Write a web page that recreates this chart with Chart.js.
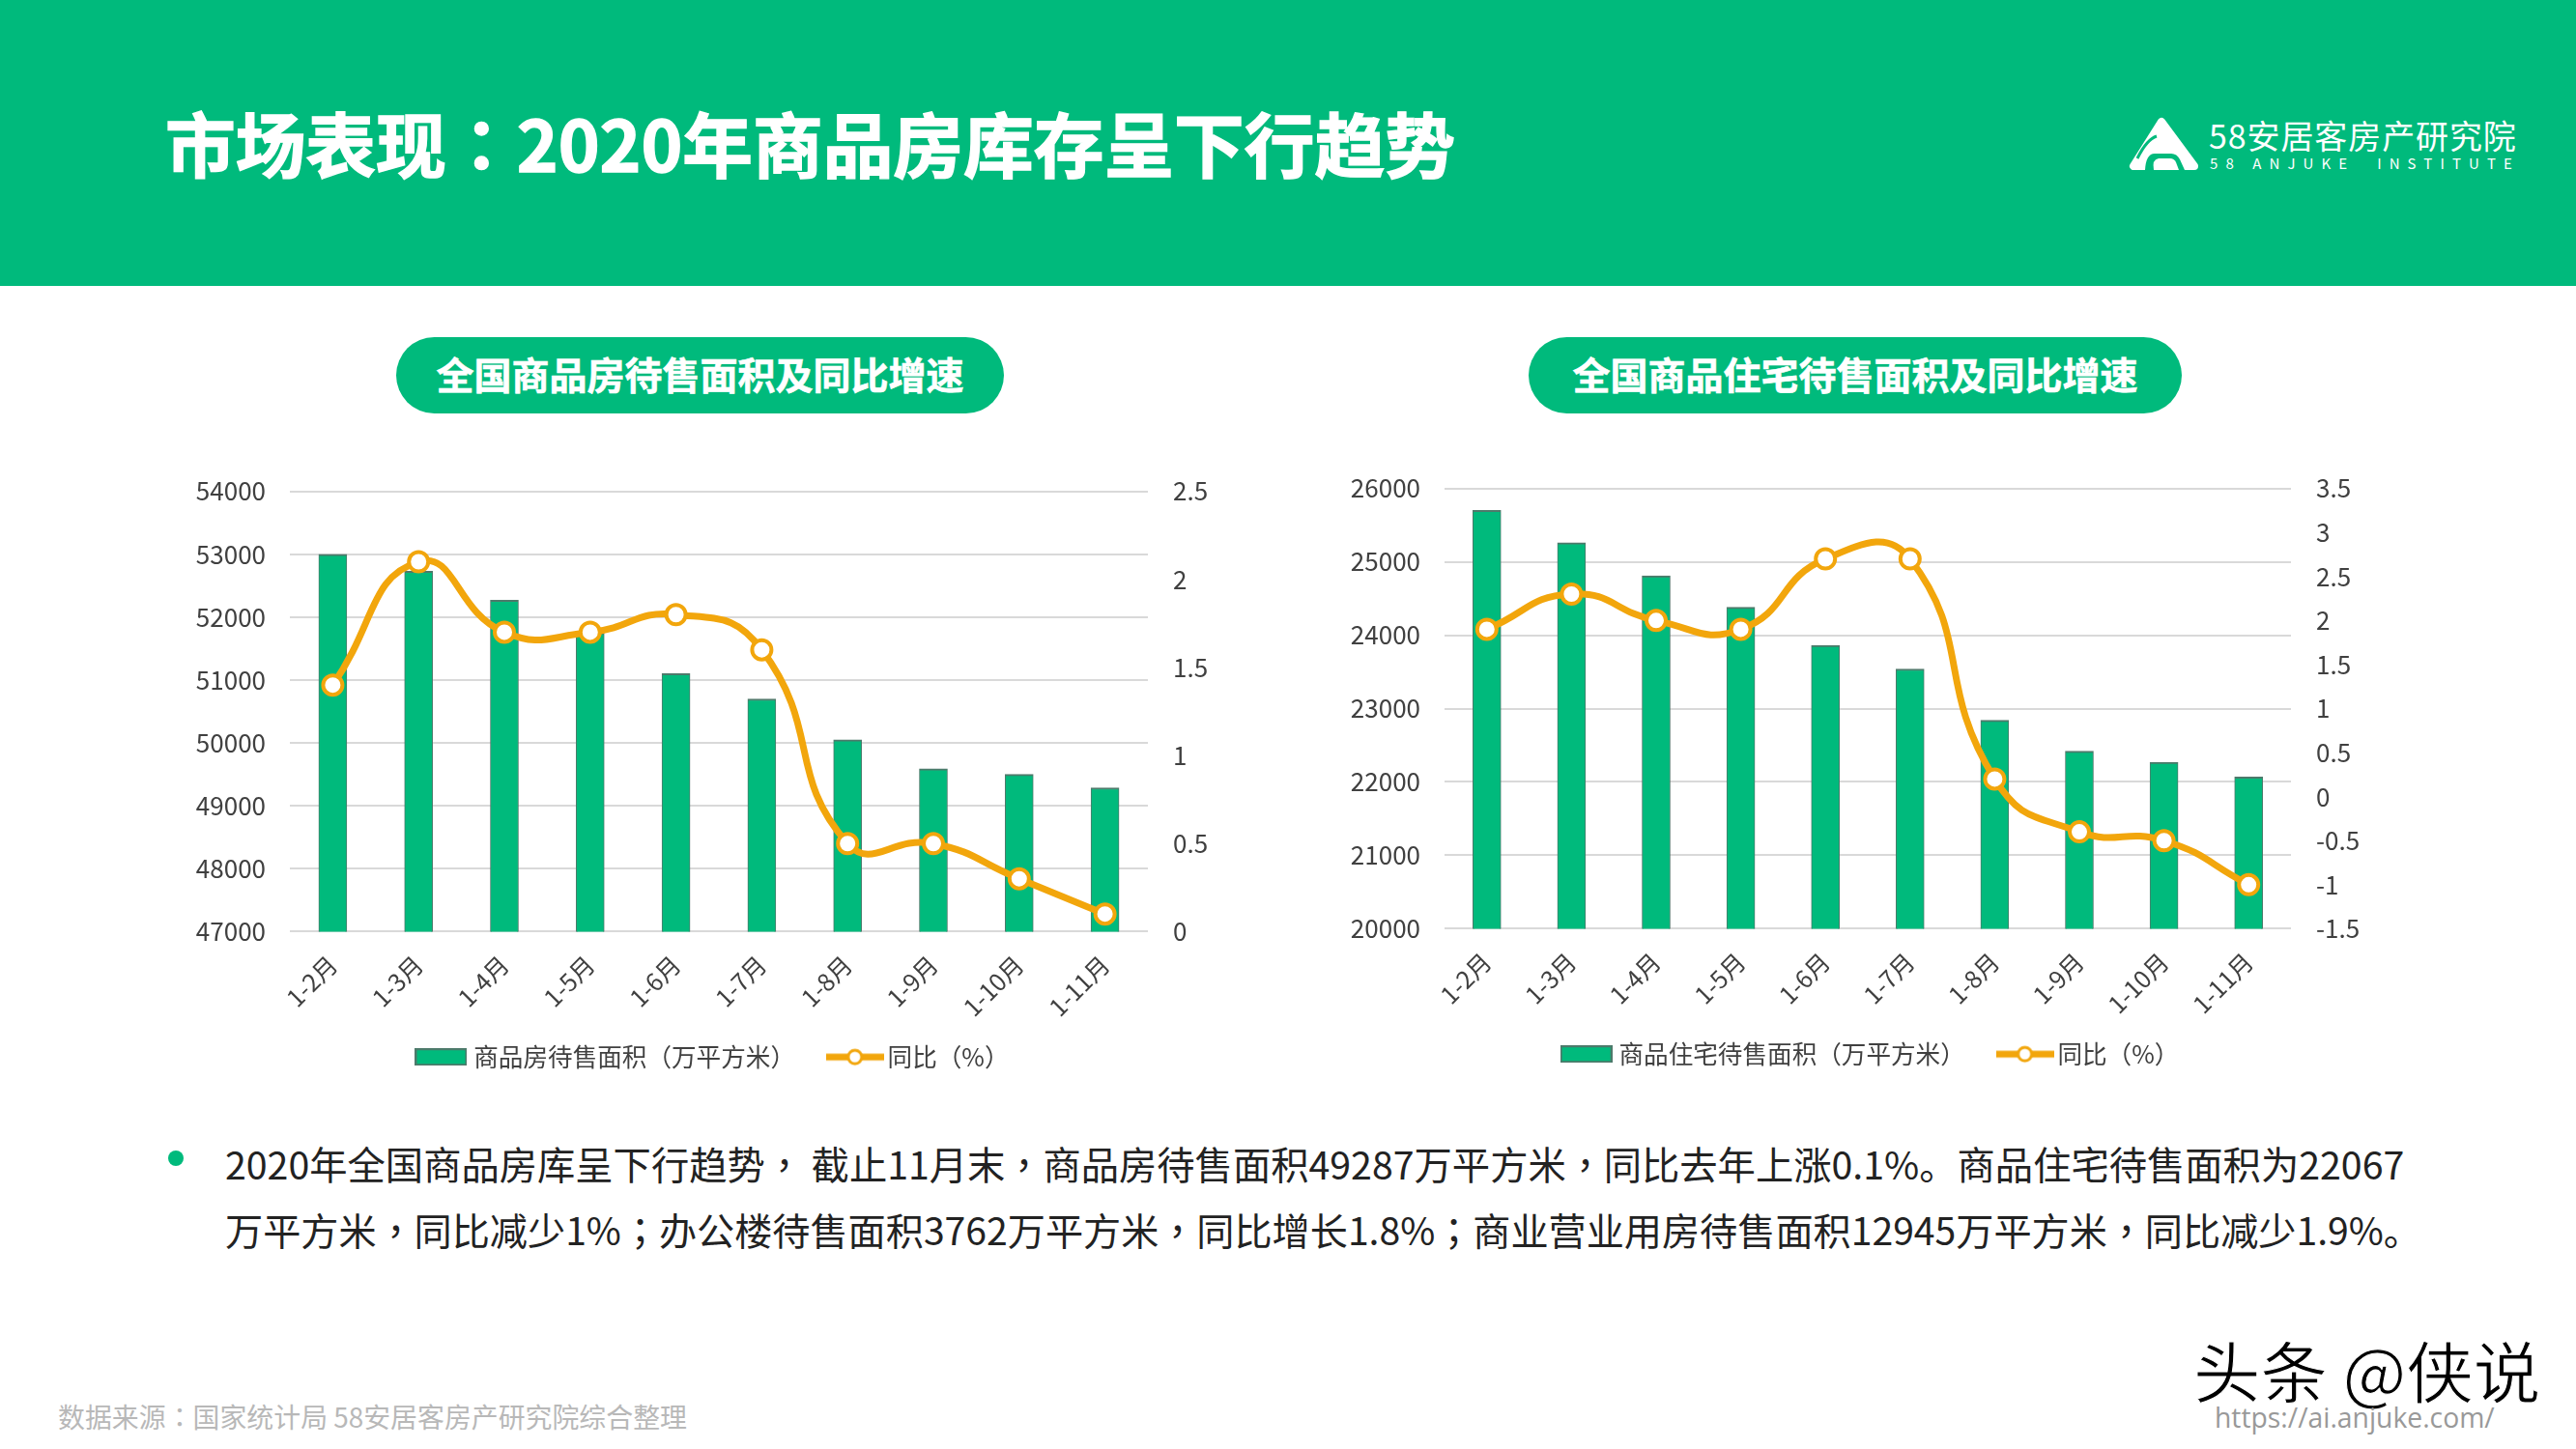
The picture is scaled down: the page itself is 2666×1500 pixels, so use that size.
<!DOCTYPE html>
<html>
<head>
<meta charset="utf-8">
<script src="https://cdn.jsdelivr.net/npm/chart.js@4"></script>
<style>
    /* the reference centres these marks in their cell, the TC cut of the font does too */
    @font-face { font-family: "Punct"; src: local("Noto Sans CJK TC"); unicode-range: U+FF0C, U+FF1A, U+FF1B; }
    @font-face { font-family: "Punct"; font-weight: 700; src: local("Noto Sans CJK TC Bold"), local("Noto Sans CJK TC"); unicode-range: U+FF0C, U+FF1A, U+FF1B; }
    html, body { margin: 0; padding: 0; background: #fff; }
    body { position: relative; width: 2666px; height: 1500px; overflow: hidden; font-family: "Punct", "Noto Sans CJK SC", sans-serif; }
    .txt { position: absolute; white-space: nowrap; line-height: 1; }
    canvas { position: absolute; }
    #header { position: absolute; left: 0; top: 0; width: 2666px; height: 296px; background: #00BA7C; }
    .pill { position: absolute; height: 79px; top: 349px; border-radius: 40px; background: #00BA7C; color: #fff; font-weight: 700; font-size: 39px; line-height: 75px; text-align: center; white-space: nowrap; -webkit-text-stroke: 0.6px #fff; }
    #bullet { position: absolute; left: 174px; top: 1191px; width: 16px; height: 16px; border-radius: 50%; background: #00BA7C; }
</style>
</head>
<body>
<div id="header"></div>
<div class="txt" style="left:171px;top:111px;font-size:72.7px;font-weight:700;color:#fff;-webkit-text-stroke:1.4px #fff">市场表现：2020年商品房库存呈下行趋势</div>

<svg style="position:absolute;left:2200px;top:118px" width="80" height="62" viewBox="0 0 80 62">
    <path d="M37 8 L8 54 L71 54 Z" fill="#fff" stroke="#fff" stroke-width="8" stroke-linejoin="round"/>
    <path d="M12 46 Q22 26 32 23" fill="none" stroke="#00BA7C" stroke-width="3"/>
    <path d="M20 58 Q21 40 31 41 L47 41 Q53 41 56 47 L61 58 Z" fill="#00BA7C"/>
    <path d="M29 58 Q27 47 34 46 L46 46 Q50 46 52 50 L55 58 Z" fill="#fff"/>
</svg>
<div class="txt" style="left:2286px;top:123px;font-size:34px;font-weight:400;color:#fff;letter-spacing:0.9px">58安居客房产研究院</div>
<div class="txt" style="left:2287px;top:161px;font-size:15px;color:#fff;letter-spacing:8.1px">58 ANJUKE &nbsp;INSTITUTE</div>

<div class="pill" style="left:410px;width:629px">全国商品房待售面积及同比增速</div>
<div class="pill" style="left:1582px;width:676px">全国商品住宅待售面积及同比增速</div>

<canvas id="leftChart" width="1180" height="663" style="left:150px;top:467px"></canvas>
<canvas id="rightChart" width="1176" height="663" style="left:1350px;top:464px"></canvas>

<div id="bullet"></div>
<div class="txt" style="left:233px;top:1184px;font-size:39.3px;color:#222">2020年全国商品房库呈下行趋势， 截止11月末，商品房待售面积49287万平方米，同比去年上涨0.1%。商品住宅待售面积为22067</div>
<div class="txt" style="left:233px;top:1253px;font-size:39.15px;color:#222">万平方米，同比减少1%；办公楼待售面积3762万平方米，同比增长1.8%；商业营业用房待售面积12945万平方米，同比减少1.9%。</div>

<div class="txt" style="left:60px;top:1453px;font-size:27.9px;color:#b8b8b8">数据来源：国家统计局 58安居客房产研究院综合整理</div>
<div class="txt" style="left:2270px;top:1382px;font-size:69.5px;color:#000;-webkit-text-stroke:1px #fff">头条 @侠说</div>
<div class="txt" style="left:2292px;top:1453px;font-size:28.3px;color:#999;font-family:'Open Sans',sans-serif">https://ai.anjuke.com/</div>

<script>
const months = ['1-2月', '1-3月', '1-4月', '1-5月', '1-6月', '1-7月', '1-8月', '1-9月', '1-10月', '1-11月'];

const allAreaName = '商品房待售面积（万平方米）';
const allArea = [53000, 52730, 52270, 51750, 51100, 50700, 50050, 49590, 49500, 49287];
const allGrowth = [1.4, 2.1, 1.7, 1.7, 1.8, 1.6, 0.5, 0.5, 0.3, 0.1];

const homeAreaName = '商品住宅待售面积（万平方米）';
const homeArea = [25700, 25260, 24810, 24380, 23860, 23540, 22840, 22420, 22270, 22067];
const homeGrowth = [1.9, 2.3, 2.0, 1.9, 2.7, 2.7, 0.2, -0.4, -0.5, -1.0];

const growthName = '同比（%）';

const GREEN = '#00BA7C';
const ORANGE = '#F2A60C';
const TEXT = '#404040';
const FONT = '"Noto Sans CJK SC", sans-serif';

// legend swatches, drawn once and handed to the legend as point styles
function barSwatch() {
    const c = document.createElement('canvas');
    c.width = 54;
    c.height = 18;
    const ctx = c.getContext('2d');
    ctx.fillStyle = GREEN;
    ctx.strokeStyle = '#4d7a6b';
    ctx.lineWidth = 2;
    ctx.fillRect(1, 1, 52, 16);
    ctx.strokeRect(1, 1, 52, 16);
    return c;
}

function lineSwatch() {
    const c = document.createElement('canvas');
    c.width = 60;
    c.height = 24;
    const ctx = c.getContext('2d');
    ctx.strokeStyle = ORANGE;
    ctx.lineWidth = 7;
    ctx.beginPath();
    ctx.moveTo(0, 12);
    ctx.lineTo(60, 12);
    ctx.stroke();
    ctx.fillStyle = '#fff';
    ctx.lineWidth = 3;
    ctx.beginPath();
    ctx.arc(30, 12, 7, 0, Math.PI * 2);
    ctx.fill();
    ctx.stroke();
    return c;
}

function drawChart(id, barName, barValues, lineValues, y1, y2, widths) {
    new Chart(document.getElementById(id), {
        data: {
            labels: months,
            datasets: [
                {
                    type: 'line',
                    label: growthName,
                    data: lineValues,
                    yAxisID: 'y2',
                    order: 1,
                    borderColor: ORANGE,
                    borderWidth: 7,
                    tension: 0.5,
                    pointRadius: 10,
                    pointBackgroundColor: '#fff',
                    pointBorderColor: ORANGE,
                    pointBorderWidth: 4
                },
                {
                    type: 'bar',
                    label: barName,
                    data: barValues,
                    yAxisID: 'y1',
                    order: 2,
                    barThickness: 29,
                    backgroundColor: GREEN,
                    borderColor: '#4d7a6b',
                    borderWidth: { top: 2, left: 1, right: 1, bottom: 0 }
                }
            ]
        },
        options: {
            responsive: false,
            animation: false,
            devicePixelRatio: 1,
            layout: { padding: { bottom: 13 } },
            plugins: {
                title: { display: false },
                tooltip: { enabled: false },
                legend: {
                    position: 'bottom',
                    labels: {
                        usePointStyle: true,
                        pointStyleWidth: 42,
                        padding: 28,
                        color: TEXT,
                        font: { family: FONT, size: 25.6 },
                        // en space widens the gap between the two items without growing the legend's height
                        generateLabels: () => [
                            { text: barName + '\u2002', pointStyle: barSwatch(), fontColor: TEXT, datasetIndex: 1 },
                            { text: growthName, pointStyle: lineSwatch(), fontColor: TEXT, datasetIndex: 0 }
                        ]
                    }
                }
            },
            scales: {
                x: {
                    grid: { display: false },
                    border: { display: false },
                    ticks: {
                        minRotation: 45,
                        maxRotation: 45,
                        padding: 11,
                        color: TEXT,
                        font: { family: FONT, size: 25 }
                    },
                    afterFit: scale => { scale.height = 89; }
                },
                y1: {
                    position: 'left',
                    min: y1.min,
                    max: y1.max,
                    grid: { color: '#D9D9D9', lineWidth: 2, drawTicks: false },
                    border: { display: false },
                    ticks: {
                        stepSize: y1.step,
                        padding: 25,
                        color: TEXT,
                        font: { family: FONT, size: 26 },
                        callback: v => String(v)
                    },
                    afterFit: scale => { scale.width = widths[0]; }
                },
                y2: {
                    position: 'right',
                    min: y2.min,
                    max: y2.max,
                    grid: { display: false, drawTicks: false },
                    border: { display: false },
                    ticks: {
                        stepSize: y2.step,
                        padding: 26,
                        color: TEXT,
                        font: { family: FONT, size: 26 },
                        callback: v => String(v)
                    },
                    afterFit: scale => { scale.width = widths[1]; }
                }
            }
        }
    });
}

drawChart('leftChart', allAreaName, allArea, allGrowth, { min: 47000, max: 54000, step: 1000 }, { min: 0, max: 2.5, step: 0.5 }, [150, 142]);
drawChart('rightChart', homeAreaName, homeArea, homeGrowth, { min: 20000, max: 26000, step: 1000 }, { min: -1.5, max: 3.5, step: 0.5 }, [145, 155]);
</script>
</body>
</html>
